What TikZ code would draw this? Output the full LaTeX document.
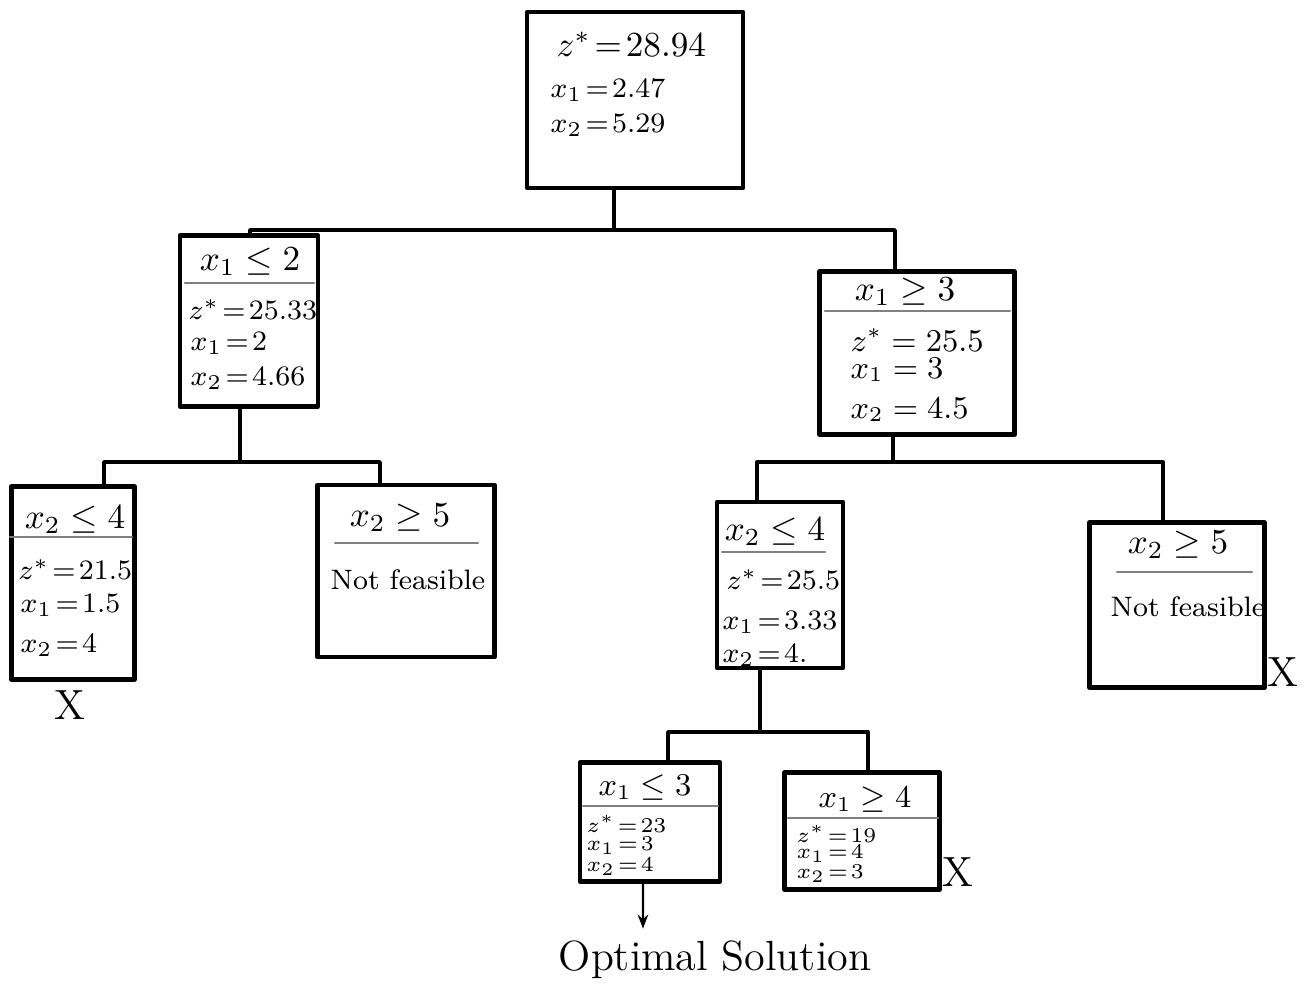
\documentclass[tikz,border=0pt]{standalone}
\usepackage{amsmath,amssymb}
\usepackage{fontspec}
\usepackage{tikz}
\usetikzlibrary{arrows.meta, positioning, calc}

\newcommand{\eq}{\mkern2mu{=}\mkern2mu}

\begin{document}
\begin{tikzpicture}[
    x=0.01cm, y=-0.01cm,
    line join=round, line cap=round,
    bbox/.style={rectangle, draw, line width=1.2pt, inner sep=0pt},
    edge/.style={line width=1.1pt},
    divider/.style={line width=0.6pt, gray},
    hdr/.style={font=\normalsize},
    val/.style={anchor=west, inner sep=0pt, font=\footnotesize},
    sval/.style={anchor=west, inner sep=0pt, font=\fontsize{6}{7}\selectfont},
    cut/.style={font=\large}
]
\useasboundingbox (0,0) rectangle (1314,994);

\node[bbox, minimum width=2.16cm, minimum height=1.76cm] (root) at (635,100) {};
\node[val, font=\normalsize] (r1) at (556,44) {$z^* \eq 28.94$};
\node[val] (r2) at (550,90) {$x_1 \eq 2.47$};
\node[val] (r3) at (550,125) {$x_2 \eq 5.29$};

\node[bbox, minimum width=1.38cm, minimum height=1.71cm] (L) at (249,321) {};
\node[hdr] (Lh) at (250,262) {$x_1 \leq 2$};
\draw[divider] (185,283) -- (314,283);
\node[val] (L1) at (188,310) {$z^* \eq 25.33$};
\node[val] (L2) at (190,343) {$x_1 \eq 2$};
\node[val] (L3) at (190,378) {$x_2 \eq 4.66$};

\node[bbox, minimum width=1.95cm, minimum height=1.63cm] (R) at (917,353) {};
\node[hdr] (Rh) at (905,292) {$x_1 \geq 3$};
\draw[divider] (825,311) -- (1010,311);
\node[val, font=\small] (R1) at (850,340) {$z^* = 25.5$};
\node[val, font=\small] (R2) at (850,370) {$x_1 = 3$};
\node[val, font=\small] (R3) at (850,410) {$x_2 = 4.5$};

\node[bbox, minimum width=1.23cm, minimum height=1.93cm] (LL) at (73,583) {};
\node[hdr] (LLh) at (75,520) {$x_2 \leq 4$};
\draw[divider] (10,537) -- (132,537);
\node[val] (LL1) at (18,570) {$z^* \eq 21.5$};
\node[val] (LL2) at (20,605) {$x_1 \eq 1.5$};
\node[val] (LL3) at (20,645) {$x_2 \eq 4$};
\node[cut] (LLx) at (70,705) {X};

\node[bbox, minimum width=1.77cm, minimum height=1.72cm] (LR) at (406,571) {};
\node[hdr] (LRh) at (400,518) {$x_2 \geq 5$};
\draw[divider] (335,543) -- (478,543);
\node[font=\footnotesize] (LR1) at (408,580) {Not feasible};

\node[bbox, minimum width=1.26cm, minimum height=1.66cm] (RL) at (780,585) {};
\node[hdr] (RLh) at (775,532) {$x_2 \leq 4$};
\draw[divider] (722,552) -- (825,552);
\node[val] (RL1) at (726,580) {$z^* \eq 25.5$};
\node[val] (RL2) at (722,622) {$x_1 \eq 3.33$};
\node[val] (RL3) at (722,655) {$x_2 \eq 4.$};

\node[bbox, minimum width=1.75cm, minimum height=1.65cm] (RR) at (1177,605) {};
\node[hdr] (RRh) at (1178,545) {$x_2 \geq 5$};
\draw[divider] (1117,572) -- (1252,572);
\node[font=\footnotesize] (RR1) at (1188,607) {Not feasible};
\node[cut] (RRx) at (1283,672) {X};

\node[bbox, minimum width=1.40cm, minimum height=1.19cm] (RLL) at (650,822) {};
\node[hdr, font=\small] (RLLh) at (645,788) {$x_1 \leq 3$};
\draw[divider] (583,806) -- (718,806);
\node[sval] (RLL1) at (586,824) {$z^* \eq 23$};
\node[sval] (RLL2) at (586,846) {$x_1 \eq 3$};
\node[sval] (RLL3) at (586,867) {$x_2 \eq 4$};

\node[bbox, minimum width=1.55cm, minimum height=1.17cm] (RLR) at (862,831) {};
\node[hdr, font=\small] (RLRh) at (865,800) {$x_1 \geq 4$};
\draw[divider] (788,818) -- (938,818);
\node[sval] (RLR1) at (796,834) {$z^* \eq 19$};
\node[sval] (RLR2) at (796,854) {$x_1 \eq 4$};
\node[sval] (RLR3) at (796,874) {$x_2 \eq 3$};
\node[cut] (RLRx) at (958,872) {X};

\node[font=\large] (opt) at (715,960) {Optimal Solution};

\coordinate (j0) at (614,230);
\coordinate (j1) at (240,462);
\coordinate (j2) at (893,462);
\coordinate (j3) at (760,732);

\draw[edge] (j0 |- root.south) -- (j0);
\draw[edge] ([xshift=0.01cm]L.north) |- (j0) -| ([xshift=-0.22cm]R.north);
\draw[edge] (j1 |- L.south) -- (j1);
\draw[edge] ([xshift=0.31cm]LL.north) |- (j1) -| ([xshift=-0.26cm]LR.north);
\draw[edge] (j2 |- R.south) -- (j2);
\draw[edge] ([xshift=-0.23cm]RL.north) |- (j2) -| ([xshift=-0.14cm]RR.north);
\draw[edge] (j3 |- RL.south) -- (j3);
\draw[edge] ([xshift=0.18cm]RLL.north) |- (j3) -| ([xshift=0.06cm]RLR.north);
\draw[-{Stealth[length=4pt]}, line width=0.6pt] ([xshift=-0.07cm]RLL.south) -- ([xshift=-0.72cm]opt.north);
\end{tikzpicture}
\end{document}
